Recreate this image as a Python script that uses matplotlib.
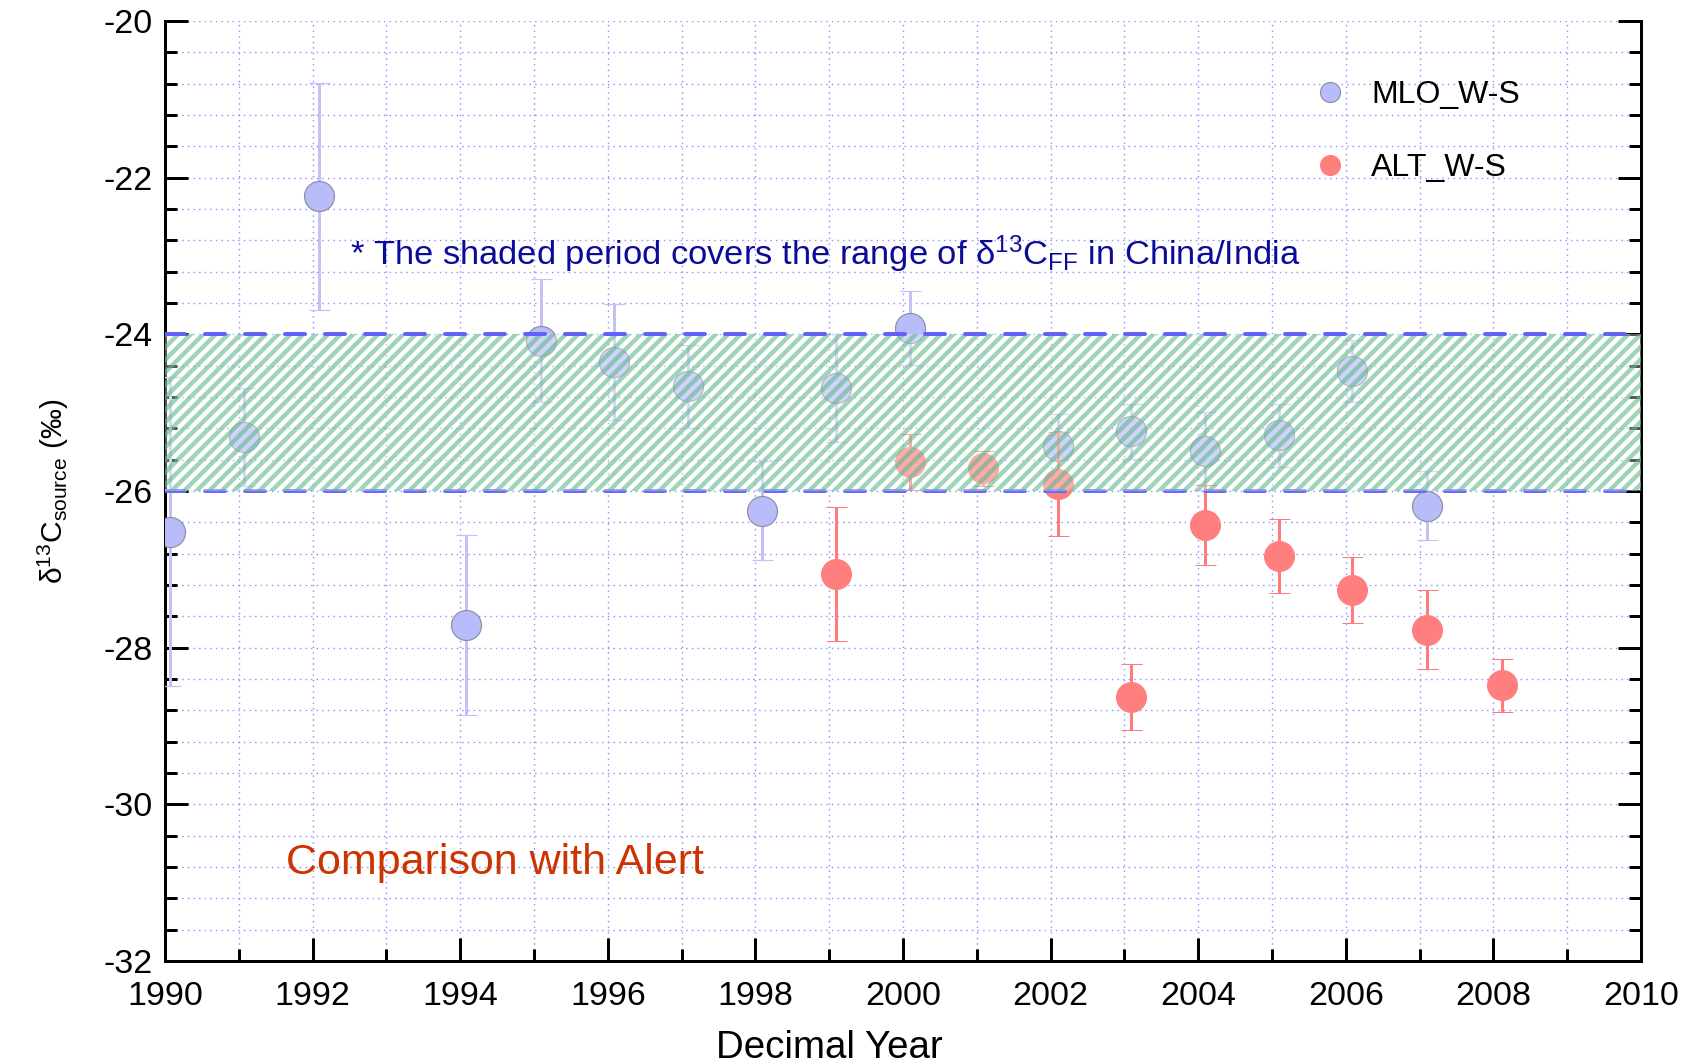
import matplotlib
matplotlib.use("Agg")
import matplotlib.pyplot as plt
from matplotlib.lines import Line2D
from matplotlib.ticker import MultipleLocator, FormatStrFormatter

DPI = 150


def px(v):
    """Convert a size in pixels to points at the figure resolution."""
    return v * 72.0 / DPI


# Mauna Loa winter-summer source signatures
mlo_year = [1990.07, 1991.07, 1992.08, 1994.08, 1995.09, 1996.08, 1997.08, 1998.09,
            1999.09, 2000.09, 2002.10, 2003.09, 2004.09, 2005.10, 2006.08, 2007.10]
mlo_val = [-26.52, -25.31, -22.24, -27.71, -24.08, -24.35, -24.66, -26.25,
           -24.69, -23.92, -25.42, -25.24, -25.49, -25.29, -24.47, -26.19]
mlo_err = [1.97, 0.63, 1.45, 1.15, 0.78, 0.74, 0.53, 0.63,
           0.69, 0.47, 0.40, 0.35, 0.50, 0.40, 0.40, 0.44]

# Alert winter-summer source signatures
alt_year = [1999.09, 2000.09, 2001.09, 2002.10, 2003.09, 2004.09, 2005.10, 2006.09,
            2007.10, 2008.11]
alt_val = [-27.06, -25.63, -25.71, -25.91, -28.63, -26.43, -26.83, -27.26,
           -27.77, -28.48]
alt_err = [0.85, 0.36, 0.22, 0.66, 0.42, 0.51, 0.47, 0.42, 0.50, 0.34]

# Range of fossil-fuel d13C for China/India
ff_low, ff_high = -26.0, -24.0

x_ticks = [1990, 1992, 1994, 1996, 1998, 2000, 2002, 2004, 2006, 2008, 2010]
y_ticks = [-32, -30, -28, -26, -24, -22, -20]

plt.rcParams["font.family"] = ["Liberation Sans", "DejaVu Sans"]
plt.rcParams["mathtext.default"] = "regular"
plt.rcParams["axes.unicode_minus"] = False
plt.rcParams["hatch.linewidth"] = px(4.4)

fig = plt.figure(figsize=(1696 / DPI, 1064 / DPI), dpi=DPI)
ax = fig.add_axes([165 / 1696, 1 - 961 / 1064, 1476 / 1696, 940 / 1064])
ax.set_axisbelow(True)

ax.set_xlim(x_ticks[0], x_ticks[-1])
ax.set_ylim(y_ticks[0], y_ticks[-1])
ax.set_xticks(x_ticks)
ax.set_yticks(y_ticks)
ax.xaxis.set_minor_locator(MultipleLocator(1))
ax.yaxis.set_minor_locator(MultipleLocator(0.4))
ax.yaxis.set_major_formatter(FormatStrFormatter("%d"))
ax.xaxis.set_major_formatter(FormatStrFormatter("%d"))

# dotted grid on every major and minor tick
ax.grid(which="both", color="#8c8cff", linestyle=(0, (1, 3)), linewidth=px(1.4))

for side in ("left", "bottom", "right"):
    ax.spines[side].set_linewidth(px(3))
    ax.spines[side].set_color("black")
ax.spines["top"].set_visible(False)

ax.tick_params(which="both", direction="in", top=False, right=True,
               width=px(3), colors="black")
ax.tick_params(which="major", length=px(23), labelsize=px(34))
ax.tick_params(which="minor", length=px(12))
ax.tick_params(axis="x", which="major", pad=px(20))
ax.tick_params(axis="y", which="major", pad=px(12))

# data with one-sigma error bars
ax.errorbar(mlo_year, mlo_val, yerr=mlo_err, fmt="o", ms=px(30),
            mfc="#b8bcf8", mec="#8e8ea6", mew=px(1.2),
            ecolor="#c2c2f6", elinewidth=px(3), capsize=px(10.5), capthick=px(3),
            zorder=3)
ax.errorbar(alt_year, alt_val, yerr=alt_err, fmt="o", ms=px(30),
            mfc="#ff7f7f", mec="#ff7f7f", mew=px(1),
            ecolor="#ff7a7a", elinewidth=px(3), capsize=px(10.5), capthick=px(3),
            zorder=4)

# fossil-fuel range: dashed bounds with a hatched veil between them
dash = (0, (5, 5))
ax.axhline(ff_low, color="#6a6af8", linewidth=px(4), linestyle=dash,
           dash_capstyle="round", zorder=4.5)
ax.axhspan(ff_low, ff_high, facecolor="white", edgecolor="none", alpha=0.35,
           linewidth=0, zorder=5)
ax.axhspan(ff_low, ff_high, facecolor="none", edgecolor="#5fb88b", alpha=0.6,
           hatch="////", linewidth=0, zorder=5.1)
ax.axhline(ff_high, color="#6262f8", linewidth=px(4), linestyle=dash,
           dash_capstyle="round", zorder=6)

ax.text(1992.51, -23.115,
        "* The shaded period covers the range of δ$^{13}$C$_{FF}$ in China/India",
        color="#0b0b99", fontsize=px(34.5), ha="left", va="baseline", zorder=7)
ax.text(1991.64, -30.89, "Comparison with Alert", color="#cc3300",
        fontsize=px(43), ha="left", va="baseline", zorder=7)

ax.set_xlabel("Decimal Year", fontsize=px(38.5))
ax.xaxis.set_label_coords(0.450, -0.073)
ax.set_ylabel("δ$^{13}$C$_{source}$ (‰)", fontsize=px(30))
ax.yaxis.set_label_coords(-0.064, 0.5)

handles = [
    Line2D([], [], linestyle="none", marker="o", ms=px(20), mfc="#b8bcf8",
           mec="#8e8ea6", mew=px(1.2), label="MLO_W-S"),
    Line2D([], [], linestyle="none", marker="o", ms=px(20), mfc="#ff7f7f",
           mec="#ff7f7f", mew=px(1), label="ALT_W-S"),
]
ax.legend(handles=handles, loc="upper left", frameon=False,
          bbox_to_anchor=(1314 / 1696, 1 - 80 / 1064),
          bbox_transform=fig.transFigure, prop={"size": px(32)},
          handlelength=1.0, handletextpad=0.78, labelspacing=1.34,
          borderpad=0, borderaxespad=0)

fig.savefig("out.png", dpi=DPI)
